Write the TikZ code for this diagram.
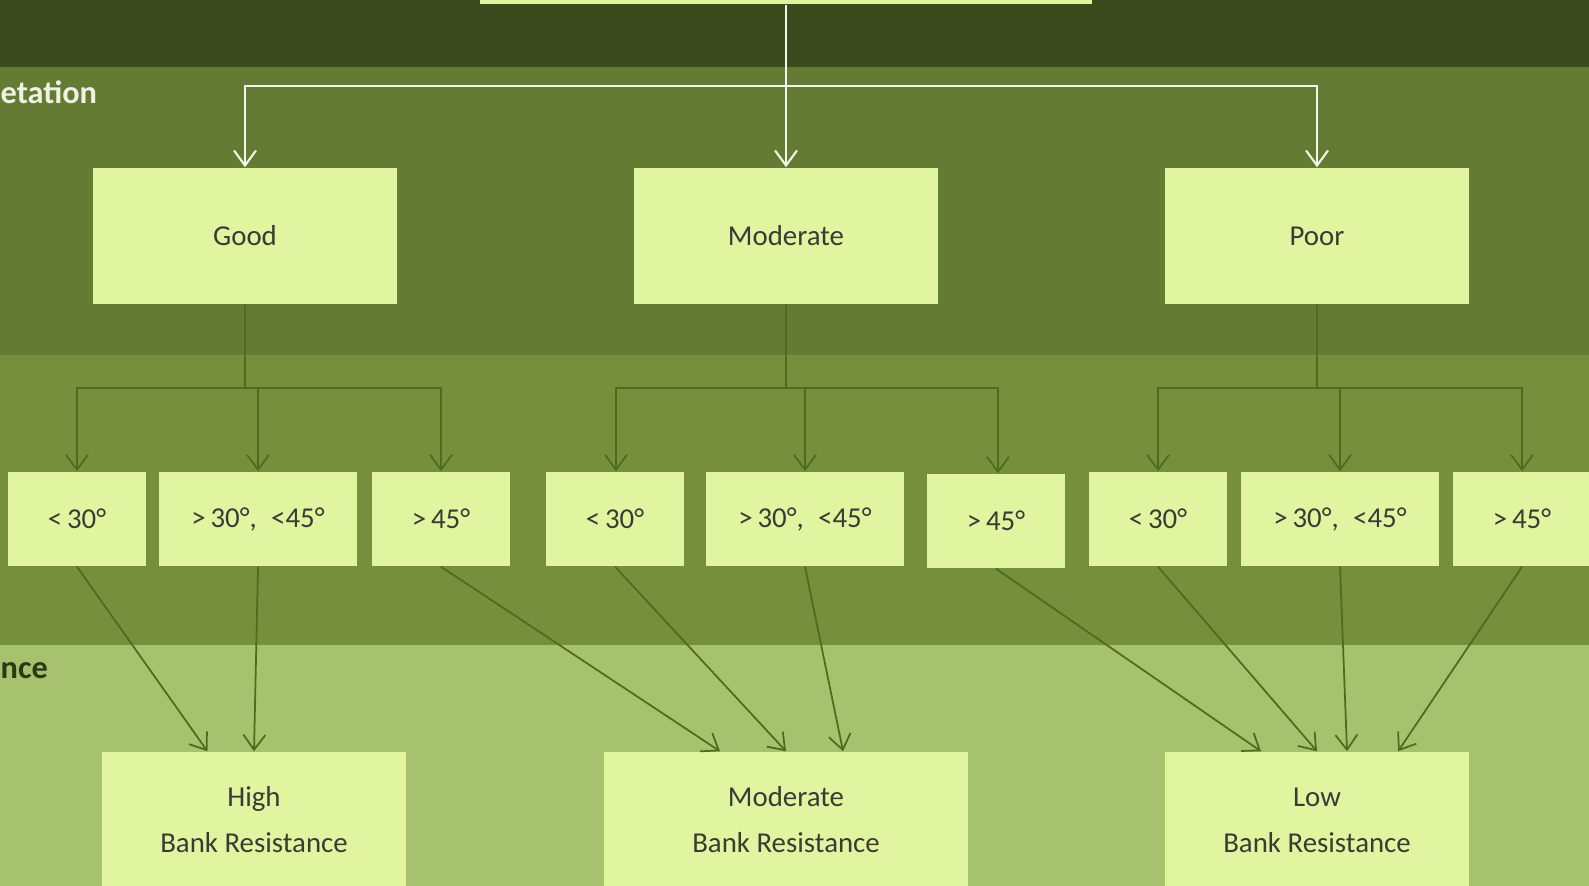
\documentclass[tikz,border=0pt]{standalone}
\usepackage{fontspec}
\setmainfont{Carlito}
\usetikzlibrary{arrows.meta}
\definecolor{bandtop}{HTML}{3C4B1E}
\definecolor{bandveg}{HTML}{647B33}
\definecolor{bandslope}{HTML}{768F3D}
\definecolor{bandres}{HTML}{A7C26E}
\definecolor{boxfill}{HTML}{E1F4A0}
\definecolor{boxtext}{HTML}{3B3B35}
\definecolor{linegreen}{HTML}{4E6B1E}
\definecolor{linewhite}{HTML}{F2F4E8}
\definecolor{labelwhite}{HTML}{EEF2E4}
\definecolor{labeldark}{HTML}{2C3A14}

\begin{document}
\begin{tikzpicture}[x=0.01cm, y=-0.01cm, >={Straight Barb[length=1.5mm,width=2.2mm]}]
			\tikzstyle{box} = [fill=boxfill, text=boxtext, inner sep=0pt, align=center, font=\fontsize{8.2}{13.1}\selectfont]
			\tikzstyle{cover} = [box, minimum width=3.04cm, minimum height=1.36cm]
			\tikzstyle{angle} = [box, minimum width=1.37cm, minimum height=0.94cm]
			\tikzstyle{wide} = [box, minimum width=1.97cm, minimum height=0.94cm]
			\tikzstyle{toplink} = [draw=linewhite, line width=0.6pt]
			\tikzstyle{sublink} = [draw=linegreen, line width=0.5pt]
			\tikzstyle{band} = [inner sep=0pt, font=\fontsize{9.2}{11}\selectfont\bfseries]

			\useasboundingbox (0,0) rectangle (1589,886);
			% bands
			\fill[bandtop] (0,0) rectangle (1589,67);
			\fill[bandveg] (0,67) rectangle (1589,355);
			\fill[bandslope] (0,355) rectangle (1589,645);
			\fill[bandres] (0,645) rectangle (1589,886);

			\node[band, anchor=base west, text=labelwhite] (veglabel) at (0,104) {etation};
			\node[band, anchor=base west, text=labeldark] (reslabel) at (0,679) {nce};

			\node[box, minimum width=6.11cm, minimum height=1.28cm] (root) at (786,-60) {};

			\node[cover] (good) at (245,236) {Good};
			\node[cover] (moderate) at (786,236) {Moderate};
			\node[cover] (poor) at (1317,236) {Poor};

			\node[angle] (g1) at (77,519) {<\,30°};
			\node[wide] (g2) at (258,519) {>\,30°,\enspace<45°};
			\node[angle] (g3) at (441,519) {>\,45°};
			\node[angle] (m1) at (615,519) {<\,30°};
			\node[wide] (m2) at (805,519) {>\,30°,\enspace<45°};
			\node[angle] (m3) at (996,521) {>\,45°};
			\node[angle] (p1) at (1158,519) {<\,30°};
			\node[wide] (p2) at (1340,519) {>\,30°,\enspace<45°};
			\node[angle] (p3) at (1522,519) {>\,45°};

			\node[cover] (high) at (254,820) {High\\Bank Resistance};
			\node[cover, minimum width=3.64cm] (modres) at (786,820) {Moderate\\Bank Resistance};
			\node[cover] (low) at (1317,820) {Low\\Bank Resistance};

			% vegetation split
			\coordinate (vsplit) at (786,86);
			\draw[toplink] (root.south) -- (vsplit);
			\draw[toplink, ->] (vsplit) -| (good.north);
			\draw[toplink, ->] (vsplit) -- (moderate.north);
			\draw[toplink, ->] (vsplit) -| (poor.north);

			% slope split
			\coordinate (gsplit) at (245,388);
			\coordinate (msplit) at (786,388);
			\coordinate (psplit) at (1317,388);
			\draw[sublink] (good.south) -- (gsplit);
			\draw[sublink] (moderate.south) -- (msplit);
			\draw[sublink] (poor.south) -- (psplit);
			\draw[sublink, ->] (gsplit) -| (g1.north);
			\draw[sublink, ->] (gsplit) -| (g2.north);
			\draw[sublink, ->] (gsplit) -| (g3.north);
			\draw[sublink, ->] (msplit) -| ([xshift=0.01cm]m1.north);
			\draw[sublink, ->] (msplit) -| (m2.north);
			\draw[sublink, ->] (msplit) -| ([xshift=0.02cm]m3.north);
			\draw[sublink, ->] (psplit) -| (p1.north);
			\draw[sublink, ->] (psplit) -| (p2.north);
			\draw[sublink, ->] (psplit) -| (p3.north);

			% resistance
			\draw[sublink, ->] (g1.south) -- ([xshift=-0.465cm]high.north);
			\draw[sublink, ->] (g2.south) -- (high.north);
			\draw[sublink, ->] (g3.south) -- ([xshift=-0.66cm]modres.north);
			\draw[sublink, ->] (m1.south) -- (modres.north);
			\draw[sublink, ->] (m2.south) -- ([xshift=0.57cm]modres.north);
			\draw[sublink, ->] (m3.south) -- ([xshift=-0.56cm]low.north);
			\draw[sublink, ->] (p1.south) -- (low.north);
			\draw[sublink, ->] (p2.south) -- ([xshift=0.3cm]low.north);
			\draw[sublink, ->] (p3.south) -- ([xshift=0.81cm]low.north);
\end{tikzpicture}
\end{document}
